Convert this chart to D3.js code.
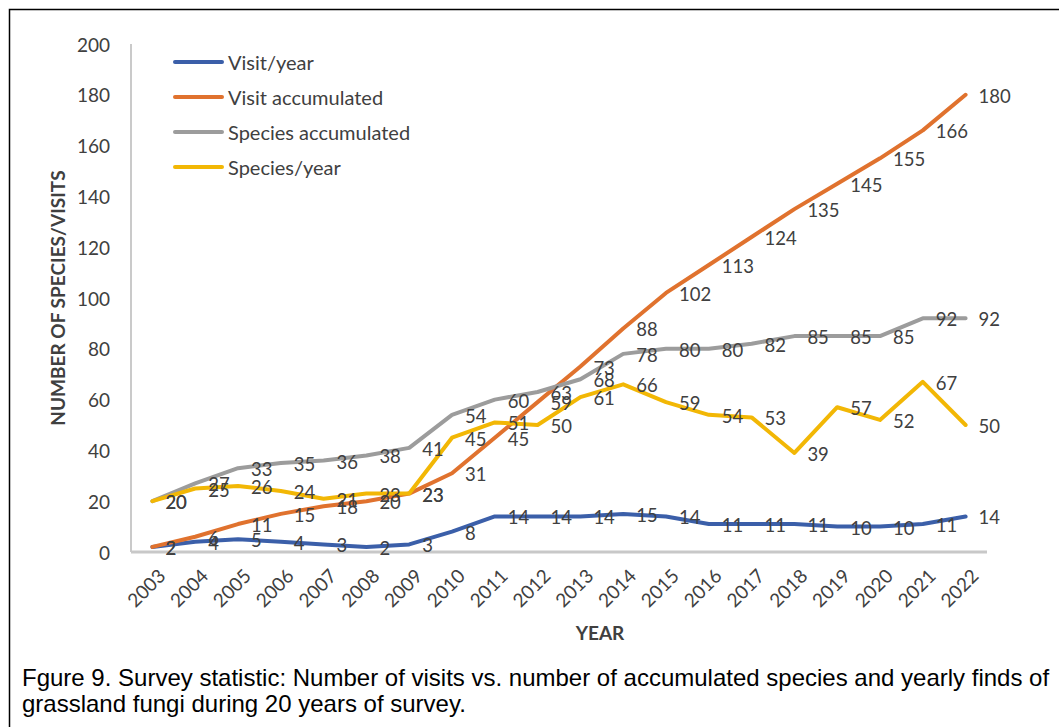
<!DOCTYPE html>
<html>
<head>
<meta charset="utf-8">
<script src="https://cdn.jsdelivr.net/npm/d3@7/dist/d3.min.js"></script>
<style>
  html, body { margin: 0; padding: 0; background: #fff; }
  svg { display: block; }
</style>
</head>
<body>
<svg id="chart" width="1059" height="727"></svg>
<script>
// Survey years
const years = ["2003","2004","2005","2006","2007","2008","2009","2010","2011","2012",
               "2013","2014","2015","2016","2017","2018","2019","2020","2021","2022"];

// Series values per year
const visitsPerYear      = [2,4,5,4,3,2,3,8,14,14,14,15,14,11,11,11,10,10,11,14];
const visitsAccumulated  = [2,6,11,15,18,20,23,31,45,59,73,88,102,113,124,135,145,155,166,180];
const speciesAccumulated = [20,27,33,35,36,38,41,54,60,63,68,78,80,80,82,85,85,85,92,92];
const speciesPerYear     = [20,25,26,24,21,23,23,45,51,50,61,66,59,54,53,39,57,52,67,50];

// Y axis ticks
const yTicks = [0,20,40,60,80,100,120,140,160,180,200];

const seriesNames = ["Visit/year", "Visit accumulated", "Species accumulated", "Species/year"];
const seriesValues = [visitsPerYear, visitsAccumulated, speciesAccumulated, speciesPerYear];
const seriesColors = ["#3b5fa9", "#e0722e", "#9c9c9c", "#f2b705"];

const series = seriesNames.map((name, i) => ({ name, values: seriesValues[i], color: seriesColors[i] }));

const svg = d3.select("#chart");
const textColor = "#404040";
const labelFont = "Lato, 'Open Sans', sans-serif";

// Frame around the figure
svg.append("path")
  .attr("d", "M9.5,727 L9.5,9.5 L1059,9.5")
  .attr("fill", "none").attr("stroke", "#000").attr("stroke-width", 1.5);

const plot = { left: 131, right: 987, top: 44, bottom: 552 };

const x = d3.scaleBand().domain(years).range([plot.left, plot.right]).padding(0);
const xc = d => x(d) + x.bandwidth() / 2;
const y = d3.scaleLinear().domain([0, 200]).range([plot.bottom, plot.top]);

// Y axis line and tick labels
svg.append("line")
  .attr("x1", plot.left).attr("x2", plot.left)
  .attr("y1", plot.top).attr("y2", plot.bottom)
  .attr("stroke", "#b8b8b8").attr("stroke-width", 1.5);

svg.append("g").selectAll("text").data(yTicks).join("text")
  .attr("x", 110).attr("y", d => y(d))
  .attr("text-anchor", "end").attr("dominant-baseline", "central")
  .attr("font-family", labelFont).attr("font-size", 19)
  .attr("fill", textColor)
  .text(d => d);

// X axis line
svg.append("line")
  .attr("x1", plot.left).attr("x2", plot.right)
  .attr("y1", plot.bottom).attr("y2", plot.bottom)
  .attr("stroke", "#c8c8c8").attr("stroke-width", 3);

// Rotated year labels
svg.append("g").selectAll("text").data(years).join("text")
  .attr("transform", d => `translate(${xc(d) + 9},${plot.bottom + 20}) rotate(-45)`)
  .attr("text-anchor", "end").attr("dominant-baseline", "central")
  .attr("font-family", labelFont).attr("font-size", 19)
  .attr("fill", textColor)
  .text(d => d);

// Axis titles
svg.append("text")
  .attr("transform", `translate(57,298) rotate(-90)`)
  .attr("text-anchor", "middle").attr("dominant-baseline", "central")
  .attr("font-family", labelFont).attr("font-size", 19).attr("font-weight", "bold")
  .attr("fill", textColor)
  .text("NUMBER OF SPECIES/VISITS");

svg.append("text")
  .attr("x", 600).attr("y", 632)
  .attr("text-anchor", "middle").attr("dominant-baseline", "central")
  .attr("font-family", labelFont).attr("font-size", 19).attr("font-weight", "bold")
  .attr("fill", textColor)
  .text("YEAR");

// Lines
const line = d3.line()
  .x((d, i) => xc(years[i]))
  .y(d => y(d));

svg.append("g").selectAll("path").data(series).join("path")
  .attr("d", s => line(s.values))
  .attr("fill", "none")
  .attr("stroke", s => s.color)
  .attr("stroke-width", 4)
  .attr("stroke-linejoin", "round")
  .attr("stroke-linecap", "round");

// Data labels to the right of each point
const labelGroup = svg.append("g");
series.forEach(s => {
  labelGroup.selectAll(null).data(s.values).join("text")
    .attr("x", (d, i) => xc(years[i]) + 13)
    .attr("y", d => y(d) + 1)
    .attr("dominant-baseline", "central")
    .attr("font-family", labelFont).attr("font-size", 18.5)
    .attr("fill", textColor)
    .text(d => d);
});

// Legend
const legend = svg.append("g").selectAll("g").data(series).join("g")
  .attr("transform", (d, i) => `translate(175,${62 + i * 35})`);
legend.append("line")
  .attr("x1", 0).attr("x2", 47).attr("y1", 0).attr("y2", 0)
  .attr("stroke", d => d.color).attr("stroke-width", 4).attr("stroke-linecap", "round");
legend.append("text")
  .attr("x", 53).attr("y", 0)
  .attr("dominant-baseline", "central")
  .attr("font-family", labelFont).attr("font-size", 20)
  .attr("fill", textColor)
  .text(d => d.name);

// Figure caption
const caption = [
  "Fgure 9. Survey statistic: Number of visits vs. number of accumulated species and yearly finds of",
  "grassland fungi during 20 years of survey."
];
svg.append("g").selectAll("text").data(caption).join("text")
  .attr("x", 22).attr("y", (d, i) => 686 + i * 26)
  .attr("font-family", "'Liberation Sans', Arial, sans-serif").attr("font-size", 24)
  .attr("fill", "#000")
  .text(d => d);
</script>
</body>
</html>
